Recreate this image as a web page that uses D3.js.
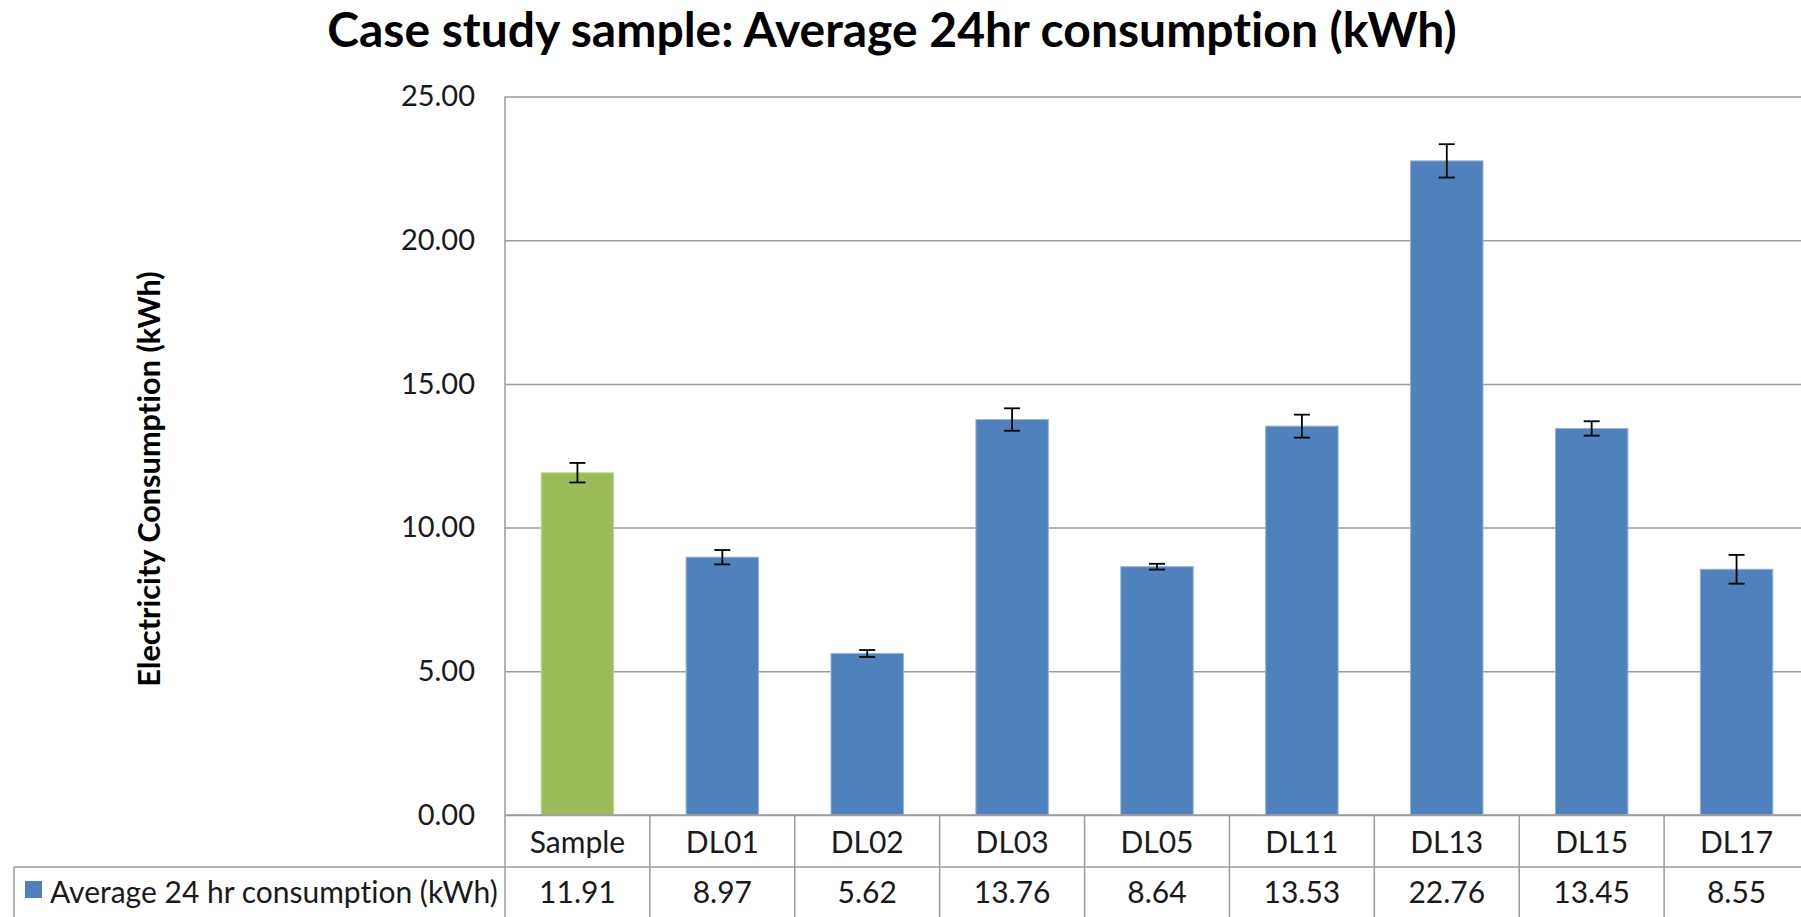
<!DOCTYPE html>
<html>
<head>
<meta charset="utf-8">
<script src="https://cdn.jsdelivr.net/npm/d3@7"></script>
<style>
  html, body { margin: 0; padding: 0; background: #fff; }
  svg { display: block; }
  text { font-family: Lato, "Open Sans", sans-serif; fill: #1a1a1a; font-variant-ligatures: none; font-feature-settings: "liga" 0, "clig" 0; }
</style>
</head>
<body>
<svg id="chart" width="1801" height="917"></svg>
<script>
// ---- data ----
const title = "Case study sample: Average 24hr consumption (kWh)";
const yAxisTitle = "Electricity Consumption (kWh)";
const seriesName = "Average 24 hr consumption (kWh)";
const categories = ["Sample", "DL01", "DL02", "DL03", "DL05", "DL11", "DL13", "DL15", "DL17"];
const values = [11.91, 8.97, 5.62, 13.76, 8.64, 13.53, 22.76, 13.45, 8.55];
const errors = [0.34, 0.25, 0.12, 0.39, 0.10, 0.40, 0.58, 0.25, 0.50];
const yTicks = [0, 5, 10, 15, 20, 25];
const highlightCategory = "Sample";

// ---- layout ----
const W = 1801, H = 917;
const plot = { left: 505, right: 1809, top: 96.5, bottom: 815 };
const rowSep = 867;       // between category row and value row
const tableBottom = 919;
const legendLeft = 14;
const gridColor = "#9b9b9b";
const blue = "#4F81BD", green = "#9BBB59";

const svg = d3.select("#chart");

const x = d3.scaleBand().domain(categories).range([plot.left, plot.right])
  .paddingInner(0.5).paddingOuter(0.25);
const step = x.step();
const y = d3.scaleLinear().domain([0, 25]).range([plot.bottom, plot.top]);

// title
svg.append("text")
  .attr("x", 892).attr("y", 47)
  .attr("text-anchor", "middle")
  .style("font-weight", "700").style("font-size", "48px").style("fill", "#000")
  .text(title);

// y axis title
svg.append("text")
  .attr("transform", "translate(160,479) rotate(-90)")
  .attr("text-anchor", "middle")
  .style("font-weight", "700").style("font-size", "30.7px").style("fill", "#000")
  .text(yAxisTitle);

// gridlines + y tick labels using d3 axis
const yAxis = d3.axisLeft(y).tickValues(yTicks).tickFormat(d3.format(".2f"))
  .tickSize(-(plot.right - plot.left)).tickPadding(30);
const gy = svg.append("g").attr("transform", `translate(${plot.left},0)`).call(yAxis);
gy.select(".domain").remove();
gy.selectAll(".tick line").attr("stroke", gridColor).attr("stroke-width", 1.5);
gy.selectAll(".tick text").style("font-size", "29px").style("font-family", "Lato, sans-serif")
  .attr("fill", "#1a1a1a");

// y axis line
svg.append("line")
  .attr("x1", plot.left).attr("x2", plot.left)
  .attr("y1", plot.top).attr("y2", plot.bottom)
  .attr("stroke", gridColor).attr("stroke-width", 1.5);

// bars
const data = categories.map((c, i) => ({ c, v: values[i], e: errors[i] }));
svg.append("g").selectAll("rect").data(data).join("rect")
  .attr("x", d => x(d.c))
  .attr("width", x.bandwidth())
  .attr("y", d => y(d.v))
  .attr("height", d => y(0) - y(d.v))
  .attr("fill", d => d.c === highlightCategory ? green : blue)
  .attr("stroke", d => d.c === highlightCategory ? "#c3d69b" : "#95b3d7")
  .attr("stroke-width", 1);

// error bars
const eb = svg.append("g").attr("stroke", "#000").attr("stroke-width", 1.8);
data.forEach(d => {
  const cx = x(d.c) + x.bandwidth() / 2;
  eb.append("line").attr("x1", cx).attr("x2", cx).attr("y1", y(d.v + d.e)).attr("y2", y(d.v - d.e));
  eb.append("line").attr("x1", cx - 8).attr("x2", cx + 8).attr("y1", y(d.v + d.e)).attr("y2", y(d.v + d.e));
  eb.append("line").attr("x1", cx - 8).attr("x2", cx + 8).attr("y1", y(d.v - d.e)).attr("y2", y(d.v - d.e));
});

// ---- data table ----
const tg = svg.append("g");
tg.append("line").attr("x1", plot.left).attr("x2", plot.right)
  .attr("y1", plot.bottom).attr("y2", plot.bottom)
  .attr("stroke", gridColor).attr("stroke-width", 1.5);
tg.append("line").attr("x1", legendLeft).attr("x2", plot.right)
  .attr("y1", rowSep).attr("y2", rowSep)
  .attr("stroke", gridColor).attr("stroke-width", 1.5);
tg.append("line").attr("x1", legendLeft).attr("x2", legendLeft)
  .attr("y1", rowSep).attr("y2", tableBottom)
  .attr("stroke", gridColor).attr("stroke-width", 1.5);
const bounds = d3.range(categories.length + 1).map(i => plot.left + i * step);
tg.selectAll("line.div").data(bounds).join("line").attr("class", "div")
  .attr("x1", d => d).attr("x2", d => d)
  .attr("y1", plot.bottom).attr("y2", tableBottom)
  .attr("stroke", gridColor).attr("stroke-width", 1.5);

// category labels
tg.selectAll("text.cat").data(categories).join("text").attr("class", "cat")
  .attr("x", d => x(d) + x.bandwidth() / 2)
  .attr("y", 842).attr("dy", "0.35em")
  .attr("text-anchor", "middle").style("font-size", "30px")
  .text(d => d);

// value labels
tg.selectAll("text.val").data(data).join("text").attr("class", "val")
  .attr("x", d => x(d.c) + x.bandwidth() / 2)
  .attr("y", 892).attr("dy", "0.35em")
  .attr("text-anchor", "middle").style("font-size", "30px")
  .text(d => d.v.toFixed(2));

// legend key
tg.append("rect").attr("x", 25).attr("y", 881).attr("width", 17).attr("height", 17).attr("fill", blue);
tg.append("text").attr("x", 50).attr("y", 892).attr("dy", "0.35em")
  .style("font-size", "30px").text(seriesName);
</script>
</body>
</html>
